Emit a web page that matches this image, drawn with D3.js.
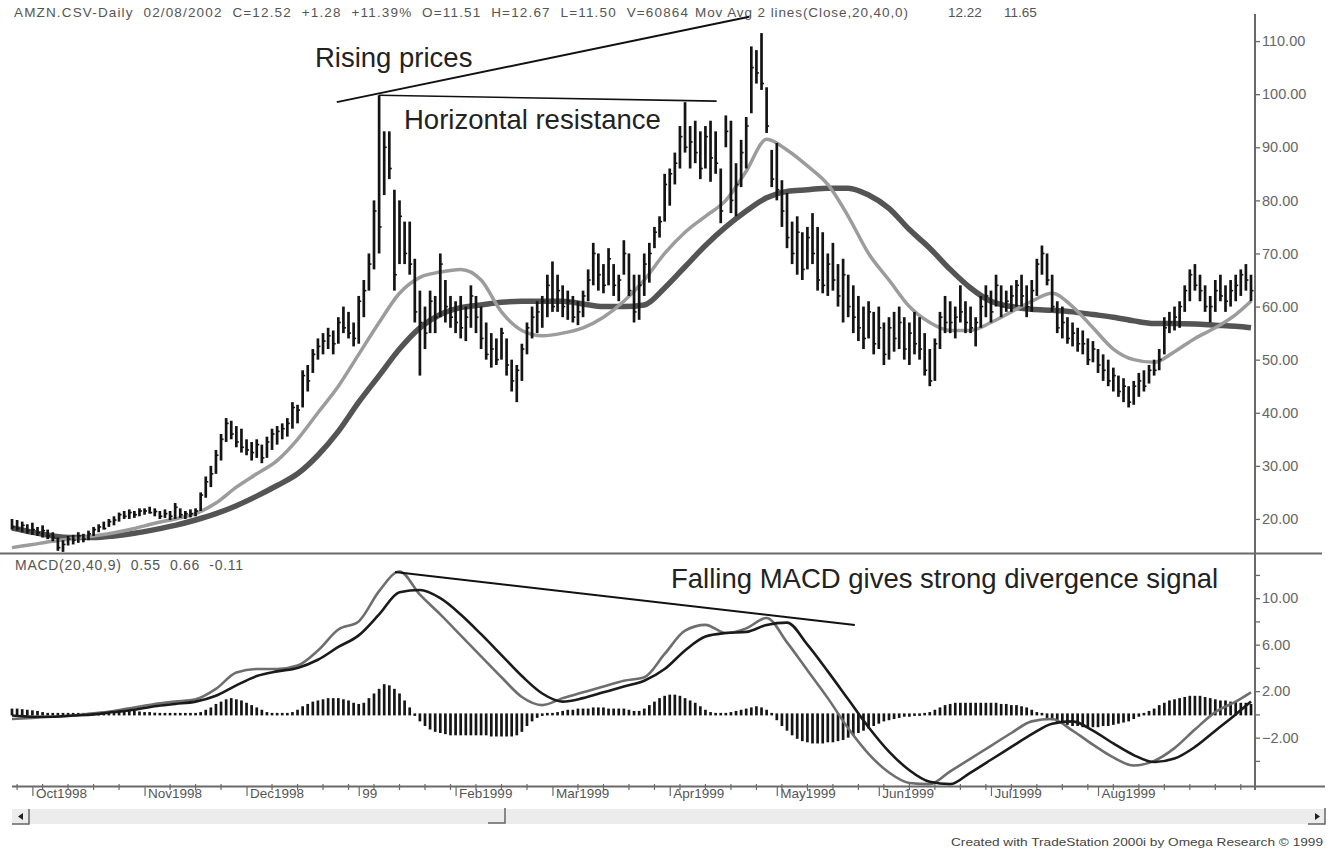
<!DOCTYPE html>
<html><head><meta charset="utf-8">
<script src="https://cdn.jsdelivr.net/npm/d3@7"></script>
<style>
body{margin:0;background:#fff;}
svg{display:block;font-family:"Liberation Sans",Arial,Helvetica,sans-serif;}
</style>
</head><body>
<svg id="chart" width="1329" height="853"></svg>
<script>
// ---------- DATA ----------
const high = [
20,19.8,19.5,19,19.3,18.5,18.8,18,17.5,16.5,
16,16.8,17,17.5,17.2,17.8,18.5,19,19.5,20,
20.5,21.2,21.5,21.8,21.5,22,22,22.3,22,21.5,
21.8,21.5,23,22,21.5,21.8,22,25,28,30,
33,36,39,38.5,37.5,37,35,34.5,35,34,
35.5,37,37.5,38,39,42,41.5,48,49,52,
54,55,56,55.5,58,60,59,57,62,65,
70,80,99.8,93,93,82,80,76,76,69,
63,60,63,62,70,65,62,61,62,60,
64,62,60,57,55,54,56,54,50,49,
53,57,60,61,62,66,68.5,66,64,63,
62,61,63,67,72,70,68,71,68,66,
72.5,70,66,66,70,72,75,77,85,86,
89,94,98.5,94,95,93,94,95,93,86,
96,95,87,91.4,95.7,109,108.3,111.5,101.3,89.5,
90.8,83.8,81.4,76,77,74,75,77.6,75,74,
70,72,68,69,66,64,62,60,61,59,
60,57,58,59,60,58,57,59,58,55,
52,54,59,62,61,60,64,61,60,58,
62,64,63,66,64,63,64,65,66,64,
65,69,71.5,70,66,61,60,58,57,56,
55.5,54,53.5,52,51,50,48.5,47,46.5,45,
46,47.5,48,49,50,52,58,59,60,61,
64,67,68,66,64,62,65,66,64,65,
66,67,68,66];
const low = [
18,17.8,17.5,17.2,17,16.8,16.5,16.2,15.8,14,
13.8,15,15.2,15.5,15.6,16,16.8,17.5,18,18.5,
18.8,19.5,20,20,20.2,20.5,20.8,21,20.5,20,
20.2,19.8,20,20.2,20,20.3,20.5,21.5,24,26,
28.5,31,34.5,35,33.5,32.5,32,31,31.5,30.5,
31.5,33,34,35,35.5,37,38,41,44,47.5,
50,51,52,51,53,55,54,52.5,53,58,
63,67,70,81,84,63,68,68,66,57,
47,52,55,55,58,57,56,55,54,53.5,
56,55,52,50,48.5,49,50,47,44,42,
46,51,54,55,56,58,59,59,58,57.5,
57,56.5,58,61,64,63,62.5,64,62,61,
66,62,57,57.5,62,64.5,71,73,76,79,
83,86,89,86,87,84,86,83.5,85,75.7,
90,77.6,77,82.5,86,96.4,102,100.8,92.7,82.5,
80,75,71,68,66,65,67,68,63,62.5,
62,63,60,57,58,55,53.5,52,54,51,
52,49,50,51.5,52,50,49,51,50,47,
45,46,52,55,55,54,57,55,55,52.5,
56,58,57,60,58,59,59,60,60,58,
59,62,66,64,59,55,54,53,52.5,51.5,
51,49,49.5,47.5,46,45,44,43,42,41,
41.5,43,44,45.5,47,48,51,55,55.5,56,
59,61,63,61,59,57,59,61,59,60,
61,62,63,61];
const close = [
18.5,18.2,18.8,17.8,18.0,17.4,17.8,16.8,16.5,14.6,
15.2,16.2,16.0,16.8,16.2,17.2,18.0,18.5,18.2,19.5,
19.8,20.8,20.5,21.2,20.8,21.5,21.5,21.2,21.4,20.5,
21.0,20.5,22.2,20.8,21.0,21.0,21.5,24.5,27.0,28.5,
32,35,38,36,34.5,33.5,33,32.5,34,31.5,
34.5,36,36.5,37,38,41,40.5,47,46,51,
52.5,53.5,54.5,53,57,56,55,54,61,63,
68,78,75,90,86,66,77,70,68,59,
57,55,61,58,68,60,58,57,56,58,
62,58,54,51,52,50,55,49,46,48,
52,56,58,59,61,64,60,63,60,61,
58,59,62,65,70,66,64,69,64,65,
70,63,59,64,68,70,74,76,83,85,
87,92,90,91,89,86,92,88,87,78,
93,80,83,89,94,105,104,102,94,84,
82,78,73,70,74,67,73,70,65,64,
68,65,62,66,60,58,56,54,59,53,
56,51,56,54,57,52,55,53,52,48,
46,53,58,57,57,58,59,57,56,57,
60,62,59,64,60,61,62,64,62,60,
63,68,70,65,60,56,57,54,55,53,
53,50,52,49,48,46,47,44,45,42,
45,46,45,48,48,50,56,57,58,60,
63,66,64,63,60,60,63,62,61,63,
64,66,65,63];

// line values read every 4th bar (bar 0,4,...,240) plus the last bar (243)
const ma20 = [14.6,15.2,15.8,16.3,16.8,17.4,18.2,19.2,20.0,21.0,23.0,26.0,28.5,31.0,35.0,40.0,45.0,51.0,57.0,62.5,
65.5,66.5,67.0,65.0,59.0,55.5,54.5,55.0,56.0,58.0,61.0,65.0,70.0,74.0,77.0,80.0,85.5,91.5,89.5,86.5,
83.0,77.0,70.0,65.0,60.0,57.0,55.5,55.5,57.0,59.0,61.0,62.5,60.0,56.0,52.0,50.0,49.5,51.5,54.0,56.0,58.5,61.0];
const ma40 = [18.3,17.5,16.8,16.5,16.5,16.8,17.3,18.0,18.8,19.8,21.0,22.5,24.3,26.3,28.5,32.0,36.5,42.0,47.0,52.0,
56.0,58.5,59.8,60.3,60.8,61.0,61.0,61.0,60.5,60.0,60.0,60.3,63.5,67.5,71.5,75.0,78.0,80.5,81.7,82.0,
82.3,82.3,81.0,78.5,74.5,71.0,67.0,63.5,61.0,60.0,59.5,59.3,59.0,58.5,58.0,57.3,56.8,56.8,56.7,56.5,56.3,56.0];
const macdLine = [-0.4,-0.3,-0.2,-0.1,0.1,0.3,0.6,0.9,1.1,1.3,2.2,3.6,3.9,3.9,4.2,5.5,7.3,8.0,10.6,12.3,
10.3,8.6,6.8,5.0,3.2,1.5,0.8,1.4,1.9,2.4,2.9,3.2,5.2,7.2,7.7,7.0,7.4,8.3,6.2,3.8,
1.4,-1.2,-3.4,-5.0,-5.9,-6.0,-4.9,-3.8,-2.7,-1.6,-0.6,-0.4,-1.4,-2.6,-3.7,-4.4,-4.0,-2.9,-1.3,0.2,1.1,1.9];
const macdAvg = [-0.1,-0.2,-0.2,-0.1,0,0.2,0.4,0.7,0.9,1.1,1.6,2.5,3.3,3.7,4.0,4.7,5.8,6.8,8.6,10.5,
10.7,10.0,8.6,6.9,5.1,3.3,1.8,1.1,1.4,1.9,2.4,2.9,3.9,5.5,6.7,7.0,7.1,7.7,7.9,6.0,
3.7,1.3,-1.1,-3.2,-4.8,-5.8,-6.0,-5.0,-3.9,-2.8,-1.7,-0.8,-0.6,-1.4,-2.5,-3.5,-4.1,-3.8,-2.8,-1.4,0,1.1];
const macdDiff = [
0.5,0.5,0.45,0.4,0.35,0.3,0.2,0.1,0.05,0.05,
0.05,0.05,0.05,0.05,0.05,0.1,0.1,0.15,0.2,0.2,
0.25,0.3,0.3,0.3,0.3,0.25,0.2,0.2,0.15,0.1,
0.1,0.1,0.1,0.1,0.1,0.1,0.1,0.2,0.4,0.6,
0.9,1.1,1.3,1.4,1.3,1.2,1.0,0.8,0.6,0.4,
0.2,0.1,0.1,0.1,0.1,0.2,0.4,0.7,0.9,1.1,
1.2,1.3,1.4,1.4,1.4,1.3,1.2,1.0,0.9,1.0,
1.4,1.8,2.2,2.6,2.5,2.2,1.8,1.2,0.6,-0.1,
-0.6,-1.0,-1.3,-1.5,-1.6,-1.7,-1.8,-1.8,-1.8,-1.8,
-1.8,-1.8,-1.8,-1.8,-1.9,-1.9,-1.9,-1.9,-1.9,-1.8,
-1.5,-1.0,-0.6,-0.3,-0.1,0.1,0.1,0.2,0.3,0.4,
0.4,0.5,0.5,0.5,0.6,0.6,0.6,0.5,0.5,0.5,
0.5,0.4,0.3,0.3,0.5,0.8,1.1,1.4,1.6,1.7,
1.7,1.6,1.4,1.2,1.0,0.7,0.4,0.2,0.1,0.05,
0.1,0.2,0.3,0.4,0.5,0.6,0.7,0.6,0.4,0.0,
-0.5,-1.0,-1.4,-1.8,-2.1,-2.3,-2.4,-2.5,-2.5,-2.5,
-2.4,-2.4,-2.3,-2.2,-2.0,-1.8,-1.6,-1.4,-1.2,-1.0,
-0.8,-0.6,-0.5,-0.4,-0.3,-0.2,-0.2,-0.1,-0.05,0.05,
0.2,0.4,0.6,0.8,0.9,1.0,1.0,1.0,1.0,1.0,
1.0,1.0,1.0,1.0,0.9,0.9,0.8,0.8,0.7,0.6,
0.4,0.2,0.0,-0.3,-0.5,-0.7,-0.8,-0.9,-1.0,-1.0,
-1.1,-1.1,-1.1,-1.1,-1.0,-1.0,-0.9,-0.8,-0.7,-0.6,
-0.4,-0.2,0.0,0.3,0.5,0.8,1.0,1.2,1.3,1.4,
1.5,1.6,1.6,1.6,1.5,1.4,1.3,1.2,1.2,1.1,
1.1,1.0,1.0,0.9];

const monthLabels = ["Oct1998","Nov1998","Dec1998","99","Feb1999","Mar1999","Apr1999","May1999","Jun1999","Jul1999","Aug1999"];
const monthStart  = [4,26,46,68,87,106,129,150,170,192,213];
const priceTicks = [20,30,40,50,60,70,80,90,100,110];
const macdTicks = [-4,-2,0,2,4,6,8,10,12];
const macdLabelTicks = [10,6,2,-2];

const headerMain = "AMZN.CSV-Daily  02/08/2002  C=12.52  +1.28  +11.39%  O=11.51  H=12.67  L=11.50  V=60864";
const headerMA = "Mov Avg 2 lines(Close,20,40,0)";
const headerMAvals = ["12.22","11.65"];
const macdHeader = "MACD(20,40,9)  0.55  0.66  -0.11";
const footer = "Created with TradeStation 2000i by Omega Research \u00A9 1999";

// annotation lines in data units: [barIndex, value]
const risingLine = [[63.7,98.5],[144.6,114.6]];
const resistLine = [[72,99.8],[138.2,98.7]];
const divergenceLine = [[75.1,12.25],[165.3,7.7]];

// ---------- DRAW ----------
const svg = d3.select("#chart");
const N = high.length;
const x = d3.scaleLinear().domain([0, N-1]).range([12, 1251]);
const yP = d3.scaleLinear().domain([13.4, 115.1]).range([554, 14]);
const yM = d3.scaleLinear().domain([-6.16, 13.8]).range([786, 554]);
const lineIdx = d3.range(0, N - 3, 4).concat([N-1]);

const defs = svg.append("defs");
defs.append("clipPath").attr("id","cp").append("rect").attr("x",0).attr("y",14).attr("width",1255).attr("height",540);
defs.append("clipPath").attr("id","cm").append("rect").attr("x",0).attr("y",555).attr("width",1255).attr("height",232);

const gray = "#6a6a6a";
const txtFont = "Liberation Sans, Arial, sans-serif";

// header
svg.append("text").attr("x",14).attr("y",16.5).attr("font-size",13.5).attr("fill","#555")
  .attr("textLength",674).attr("lengthAdjust","spacing").style("white-space","pre").text(headerMain);
svg.append("text").attr("x",695).attr("y",16.5).attr("font-size",13.5).attr("fill","#555")
  .attr("textLength",213).attr("lengthAdjust","spacing").text(headerMA);
svg.append("text").attr("x",948).attr("y",16.5).attr("font-size",13.5).attr("fill","#555").text(headerMAvals[0]);
svg.append("text").attr("x",1004).attr("y",16.5).attr("font-size",13.5).attr("fill","#555").text(headerMAvals[1]);

// price panel
const gp = svg.append("g").attr("clip-path","url(#cp)");
const line = (arr, yS) => d3.line().x((d,i)=>x(lineIdx[i])).y(d=>yS(d)).curve(d3.curveMonotoneX)(arr);
gp.append("path").attr("d", line(ma40, yP)).attr("fill","none").attr("stroke","#545454").attr("stroke-width",5.5).attr("stroke-linejoin","round");
gp.append("path").attr("d", line(ma20, yP)).attr("fill","none").attr("stroke","#9c9c9c").attr("stroke-width",3.5).attr("stroke-linejoin","round");
const bars = d3.range(N).map(i=>({i, h:high[i], l:low[i], c:close[i]}));
gp.selectAll("line.hl").data(bars).join("line").attr("class","hl")
  .attr("x1",d=>x(d.i)).attr("x2",d=>x(d.i)).attr("y1",d=>yP(d.h)).attr("y2",d=>yP(d.l))
  .attr("stroke","#141414").attr("stroke-width",2.7);
gp.selectAll("line.cl").data(bars).join("line").attr("class","cl")
  .attr("x1",d=>x(d.i)).attr("x2",d=>x(d.i)+2.5).attr("y1",d=>yP(d.c)).attr("y2",d=>yP(d.c))
  .attr("stroke","#141414").attr("stroke-width",1.6);

// annotation lines
const pLine = d3.line().x(d=>x(d[0])).y(d=>yP(d[1]));
const mLine = d3.line().x(d=>x(d[0])).y(d=>yM(d[1]));
svg.append("path").attr("d",pLine(risingLine)).attr("stroke","#111").attr("stroke-width",2).attr("fill","none");
svg.append("path").attr("d",pLine(resistLine)).attr("stroke","#111").attr("stroke-width",1.6).attr("fill","none");

svg.append("text").attr("x",315).attr("y",67).attr("font-size",27.5).attr("fill","#222").text("Rising prices");
svg.append("text").attr("x",404).attr("y",129).attr("font-size",27.5).attr("fill","#222").text("Horizontal resistance");

// divider between panels
svg.append("line").attr("x1",0).attr("x2",1322).attr("y1",553.5).attr("y2",553.5).attr("stroke",gray).attr("stroke-width",2);

// MACD panel
svg.append("text").attr("x",15).attr("y",570).attr("font-size",14).attr("fill","#555")
  .attr("textLength",228).attr("lengthAdjust","spacing").style("white-space","pre").text(macdHeader);
const gm = svg.append("g").attr("clip-path","url(#cm)");
gm.selectAll("line.h").data(macdDiff.map((v,i)=>({i,v}))).join("line").attr("class","h")
  .attr("x1",d=>x(d.i)).attr("x2",d=>x(d.i))
  .attr("y1",d=>yM(0) + (d.v>=0 ? 1 : -1))
  .attr("y2",d=>{const y=yM(d.v); return d.v>=0 ? Math.min(y, yM(0)-1.5) : Math.max(y, yM(0)+1.5);})
  .attr("stroke","#151515").attr("stroke-width",2.7);
gm.append("path").attr("d",line(macdLine,yM)).attr("fill","none").attr("stroke","#6e6e6e").attr("stroke-width",2.6);
gm.append("path").attr("d",line(macdAvg,yM)).attr("fill","none").attr("stroke","#1a1a1a").attr("stroke-width",2.6);
svg.append("path").attr("d",mLine(divergenceLine)).attr("stroke","#111").attr("stroke-width",2).attr("fill","none");
svg.append("text").attr("x",671).attr("y",588).attr("font-size",27.5).attr("fill","#222").text("Falling MACD gives strong divergence signal");

// right axes
svg.append("line").attr("x1",1255).attr("x2",1255).attr("y1",14).attr("y2",790).attr("stroke",gray).attr("stroke-width",2);
const ax1 = svg.append("g").attr("transform","translate(1255,0)")
  .call(d3.axisRight(yP).tickValues(priceTicks).tickSize(5).tickPadding(2).tickFormat(d3.format(".2f")));
const ax2 = svg.append("g").attr("transform","translate(1255,0)")
  .call(d3.axisRight(yM).tickValues(macdTicks).tickSize(5).tickPadding(2)
    .tickFormat(d=> macdLabelTicks.includes(d) ? d3.format(".2f")(d) : ""));
[ax1,ax2].forEach(a=>{
  a.select(".domain").remove();
  a.selectAll(".tick line").attr("stroke",gray).attr("stroke-width",1.3);
  a.selectAll(".tick text").attr("fill","#666").attr("font-size",14.5).attr("font-family",txtFont);
});

// x axis
svg.append("line").attr("x1",12).attr("x2",1325).attr("y1",786.5).attr("y2",786.5).attr("stroke",gray).attr("stroke-width",2);
const ax3 = svg.append("g").attr("transform","translate(0,786)")
  .call(d3.axisBottom(x).tickValues(monthStart).tickSize(10).tickPadding(0)
    .tickFormat((d,i)=>monthLabels[i]));
ax3.select(".domain").remove();
ax3.selectAll(".tick line").attr("stroke",gray).attr("stroke-width",1.2);
ax3.selectAll(".tick text").attr("text-anchor","start").attr("dx",3).attr("dy",2)
   .attr("fill","#555").attr("font-size",13.5).attr("font-family",txtFont);
const minor = d3.range(1, N, 5).filter(i=>!monthStart.includes(i));
svg.append("g").selectAll("line").data(minor).join("line")
  .attr("x1",d=>x(d)).attr("x2",d=>x(d)).attr("y1",784).attr("y2",790)
  .attr("stroke",gray).attr("stroke-width",1.2);

// scrollbar
svg.append("rect").attr("x",12).attr("y",809).attr("width",1313).attr("height",15).attr("fill","#ececec");
svg.append("path").attr("d","M12,824H29V809").attr("stroke","#666").attr("stroke-width",1.5).attr("fill","none");
svg.append("path").attr("d","M23,813L18,816.5L23,820Z").attr("fill","#222");
svg.append("path").attr("d","M488,823H505V808").attr("stroke","#666").attr("stroke-width",1.5).attr("fill","none");
svg.append("path").attr("d","M1308,824H1325V808").attr("stroke","#666").attr("stroke-width",1.5).attr("fill","none");
svg.append("path").attr("d","M1315,813L1320,816.5L1315,820Z").attr("fill","#222");

// footer
svg.append("text").attr("x",1323).attr("y",846).attr("text-anchor","end").attr("font-size",11.5).attr("fill","#444")
  .attr("textLength",372).attr("lengthAdjust","spacingAndGlyphs").text(footer);
</script>
</body></html>
